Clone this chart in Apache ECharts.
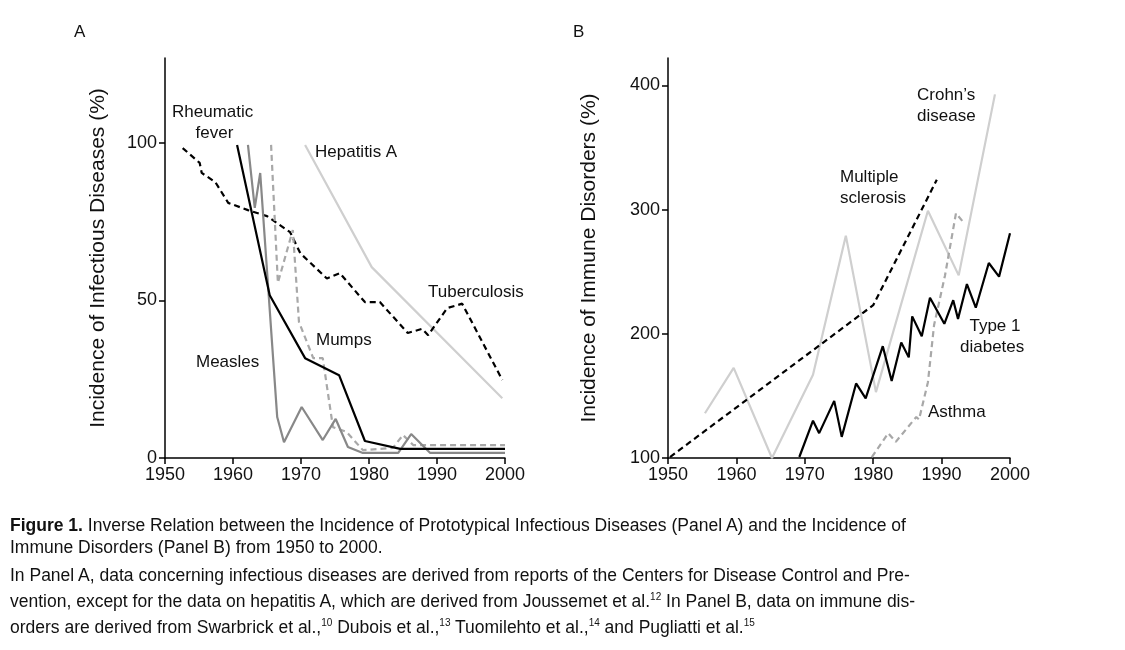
<!DOCTYPE html>
<html><head><meta charset="utf-8">
<script src="https://cdn.jsdelivr.net/npm/echarts@6/dist/echarts.min.js"></script>
<style>
body{margin:0;background:#fff;font-family:"Liberation Sans",Arial,sans-serif;}
#c{width:1125px;height:650px;position:absolute;left:0;top:0;}
#cap{position:absolute;left:10px;top:514px;width:1115px;font-size:17.5px;line-height:22px;color:#111;white-space:nowrap;}
#cap p{margin:0 0 6px 0;}
sup{font-size:10px;}
</style></head><body>
<div id="c"></div>
<div id="cap"><p><b>Figure 1.</b> Inverse Relation between the Incidence of Prototypical Infectious Diseases (Panel A) and the Incidence of<br>Immune Disorders (Panel B) from 1950 to 2000.</p>
<p>In Panel A, data concerning infectious diseases are derived from reports of the Centers for Disease Control and Pre-<br>vention, except for the data on hepatitis A, which are derived from Joussemet et al.<sup>12</sup> In Panel B, data on immune dis-<br>orders are derived from Swarbrick et al.,<sup>10</sup> Dubois et al.,<sup>13</sup> Tuomilehto et al.,<sup>14</sup> and Pugliatti et al.<sup>15</sup></p></div>
<script>
// Panel A
const tbYears=[1952.6,1955.1,1955.4,1957.4,1959.3,1962.2,1965,1968.4,1969.9,1973.8,1975.7,1979.4,1981.6,1985.7,1987.8,1988.7,1991.5,1993.7,1999.6];
const tbVals=[98.4,93.7,90.5,87.6,81,78.7,76.8,71.7,65,57,58.7,49.5,49.5,39.7,41,39,47.6,49,24.8];
const rfYears=[1960.6,1965.4,1970.6,1975.6,1979.4,1984.6,2000];
const rfVals=[99.4,51.7,31.7,26.3,5.4,2.9,2.9];
const meYears=[1962.2,1963.2,1964,1966.5,1967.5,1970.1,1973.2,1975.1,1976.9,1979.1,1984.3,1986.2,1989,2000];
const meVals=[99.4,79.4,90.5,13,5,16.2,5.7,12.4,3.5,1.6,1.6,7.6,1.6,1.6];
const muYears=[1965.6,1966.6,1968.8,1969.7,1971.8,1973.2,1974.7,1976.7,1979.1,1983.5,1985,1986.5,2000];
const muVals=[99.4,55.6,72.4,43.2,31.7,31.7,9.8,8.3,2.5,3.2,7.3,4.1,4.1];
const haYears=[1970.6,1980.4,1999.6];
const haVals=[99.4,60.6,19];
// Panel B
const msYears=[1950.3,1980,1989.3];
const msVals=[100.8,223,324];
const crYears=[1955.4,1959.6,1965.2,1971.2,1976,1980.4,1988,1992.5,1997.8];
const crVals=[136,172.6,100,167,279,153,299,247,392.7];
const t1Years=[1969.2,1971.2,1972.1,1974.3,1975.4,1977.5,1978.9,1981.4,1982.7,1984.1,1985.2,1985.7,1987.1,1988.3,1990.4,1991.7,1992.4,1993.7,1995,1996.9,1998.4,2000];
const t1Vals=[100.8,130,120,146,117,160,148,190,162,193,181,214,198,229,208,227,212,240,221,257,246,281];
const asYears=[1979.8,1982.2,1983.3,1986.3,1986.7,1988,1988.9,1990.5,1992.1,1993.3];
const asVals=[100.8,120,113,133,131,161,207,247,297,289];

const zip=(a,b)=>a.map((x,i)=>[x,b[i]]);
const ax=()=>({axisLine:{show:true,lineStyle:{color:'#000',width:1.5}},axisTick:{show:true,inside:false,length:6,lineStyle:{color:'#000',width:1.5}},splitLine:{show:false},axisLabel:{color:'#111',fontSize:18,fontFamily:'Liberation Sans',showMaxLabel:false,formatter:v=>String(v)}});
function xa(i){const a=Object.assign({type:'value',gridIndex:i,min:1950,max:2000,interval:10},ax());a.axisLabel.showMaxLabel=true;return a;}
function ln(name,x,y,gi,color,dash){return {name,type:'line',xAxisIndex:gi,yAxisIndex:gi,data:zip(x,y),symbol:'none',animation:false,lineStyle:{color,width:2.2,type:dash?[6,4]:'solid'}};}
const txt=(l,t,s)=>({type:'text',left:l,top:t,style:{text:s,fill:'#111',font:'17px "Liberation Sans"',lineHeight:21}});
const nts={fontSize:21,color:'#111',fontFamily:'Liberation Sans'};
const chart=echarts.init(document.getElementById('c'));
chart.setOption({
 grid:[{left:165,right:620,top:58,bottom:192},{left:668,right:115,top:58,bottom:192}],
 xAxis:[xa(0),xa(1)],
 yAxis:[Object.assign({type:'value',gridIndex:0,min:0,max:127,interval:50,name:'Incidence of Infectious Diseases (%)',nameLocation:'middle',nameGap:56,nameTextStyle:nts},ax()),
        Object.assign({type:'value',gridIndex:1,min:100,max:422,interval:100,name:'Incidence of Immune Disorders (%)',nameLocation:'middle',nameGap:68,nameTextStyle:nts},ax())],
 series:[
  ln('Hepatitis A',haYears,haVals,0,'#cfcfcf',false),
  ln('Tuberculosis',tbYears,tbVals,0,'#000',true),
  ln('Mumps',muYears,muVals,0,'#a8a8a8',true),
  ln('Measles',meYears,meVals,0,'#888',false),
  ln('Rheumatic fever',rfYears,rfVals,0,'#000',false),
  ln("Crohn's disease",crYears,crVals,1,'#cfcfcf',false),
  ln('Multiple sclerosis',msYears,msVals,1,'#000',true),
  ln('Asthma',asYears,asVals,1,'#a8a8a8',true),
  ln('Type 1 diabetes',t1Years,t1Vals,1,'#000',false)
 ],
 graphic:[
  {type:'text',left:74,top:24,style:{text:'A',font:'17px "Liberation Sans"',fill:'#111'}},
  {type:'text',left:573,top:24,style:{text:'B',font:'17px "Liberation Sans"',fill:'#111'}},
  txt(172,102,'Rheumatic\n     fever'),
  txt(315,142,'Hepatitis A'),
  txt(428,282,'Tuberculosis'),
  txt(316,330,'Mumps'),
  txt(196,352,'Measles'),
  txt(917,85,"Crohn’s\ndisease"),
  txt(840,167,'Multiple\nsclerosis'),
  txt(960,316,'  Type 1\ndiabetes'),
  txt(928,402,'Asthma')
 ]
});
</script></body></html>
